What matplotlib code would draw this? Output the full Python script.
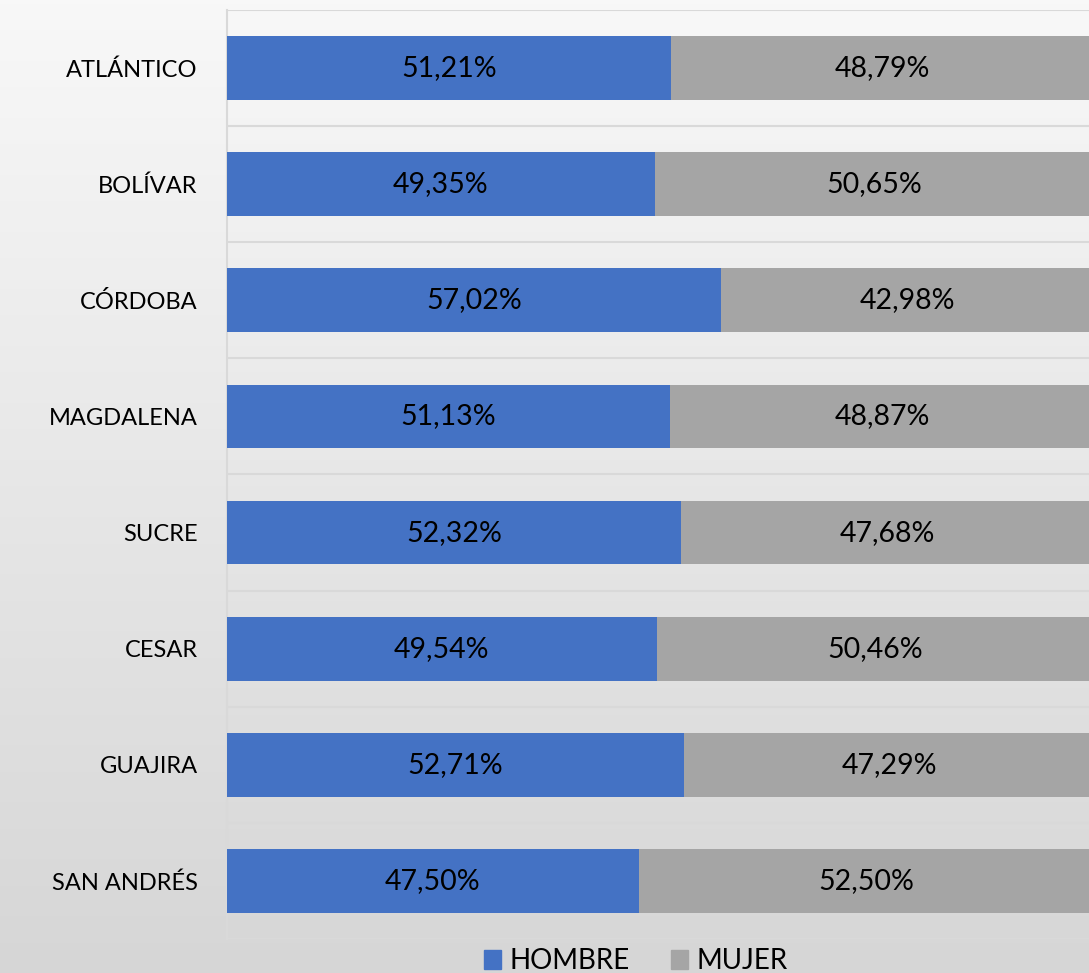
import numpy as np
import matplotlib
matplotlib.use("Agg")
import matplotlib.pyplot as plt
from matplotlib.patches import Patch

# datos
departamentos = ['ATLÁNTICO', 'BOLÍVAR', 'CÓRDOBA', 'MAGDALENA', 'SUCRE', 'CESAR', 'GUAJIRA', 'SAN ANDRÉS']
hombre = [51.21, 49.35, 57.02, 51.13, 52.32, 49.54, 52.71, 47.50]
mujer = [48.79, 50.65, 42.98, 48.87, 47.68, 50.46, 47.29, 52.50]

azul = '#4472C4'
gris = '#A5A5A5'

plt.rcParams['font.family'] = ['Lato', 'DejaVu Sans']

W, H = 1089, 973
fig = plt.figure(figsize=(W / 100, H / 100), dpi=100)

# fondo degradado (claro arriba, gris abajo)
bg = fig.add_axes([0, 0, 1, 1], zorder=0)
grad = np.linspace(0, 1, 256).reshape(-1, 1)
cmap = matplotlib.colors.LinearSegmentedColormap.from_list('bg', ['#f8f8f8', '#d6d6d6'])
bg.imshow(grad, aspect='auto', cmap=cmap, extent=[0, 1, 0, 1], origin='upper')
bg.axis('off')

ax = fig.add_axes([227 / W, (H - 939) / H, 867 / W, 929 / H], zorder=1)
ax.patch.set_alpha(0)

y = np.arange(len(departamentos))
h = np.array(hombre)
m = np.array(mujer)
ax.barh(y, h, height=0.55, color=azul, zorder=3, label='HOMBRE')
ax.barh(y, m, left=h, height=0.55, color=gris, zorder=3, label='MUJER')

for i in range(len(y)):
    ax.text(h[i] / 2, y[i], f"{h[i]:.2f}%".replace('.', ','), ha='center', va='center',
            fontsize=20.5, color='black', zorder=4)
    ax.text(h[i] + m[i] / 2, y[i], f"{m[i]:.2f}%".replace('.', ','), ha='center', va='center',
            fontsize=20.5, color='black', zorder=4)

ax.set_xlim(0, 100)
ax.set_ylim(len(y) - 0.5, -0.5)
ax.set_xticks([])
ax.set_yticks(y)
ax.set_yticklabels(departamentos, fontsize=17)
ax.set_yticks(np.arange(-0.5, len(y)), minor=True)
ax.tick_params(axis='y', which='both', length=0, pad=21)
ax.grid(True, which='minor', axis='y', color='#d9d9d9', linewidth=1.5, zorder=1)

for s in ['top', 'right', 'bottom']:
    ax.spines[s].set_visible(False)
ax.spines['left'].set_color('#d9d9d9')
ax.spines['left'].set_linewidth(1.5)

handles = [Patch(color=azul), Patch(color=gris)]
fig.legend(handles, ['HOMBRE', 'MUJER'], loc='center', bbox_to_anchor=(636 / W, 1 - 961 / H),
           ncol=2, frameon=False, fontsize=20, handlelength=0.6, handleheight=0.7,
           handletextpad=0.3, columnspacing=1.5)

fig.savefig('out.png', dpi=100)
